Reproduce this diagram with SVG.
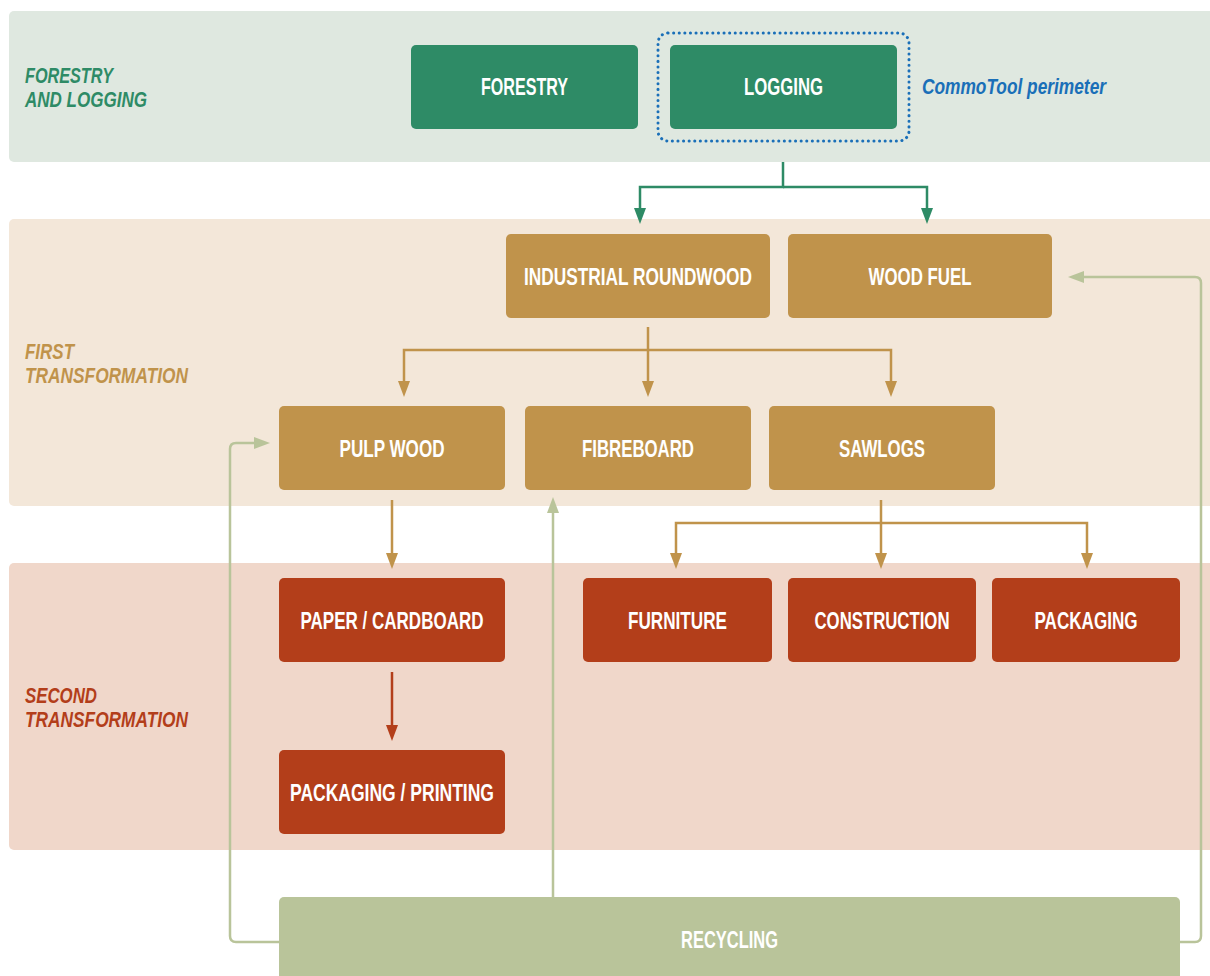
<svg xmlns="http://www.w3.org/2000/svg" width="1210" height="976" viewBox="0 0 1210 976">
<style>
.band-label{font-family:"Liberation Sans","Arial",sans-serif;font-size:22px;font-weight:bold;font-style:italic}
.nt{font-family:"Liberation Sans","Arial",sans-serif;font-size:23px;font-weight:bold;fill:#ffffff;text-anchor:middle;dominant-baseline:central}
.green{fill:#2e8b66}.gold{fill:#c0934b}.red{fill:#b33e1a}.rec{fill:#b9c49a}
.c-green{stroke:#2e8b66;stroke-width:2.5;fill:none}
.c-gold{stroke:#c0934b;stroke-width:2.5;fill:none}
.c-red{stroke:#b33e1a;stroke-width:2.5;fill:none}
.c-rec{stroke:#b9c49a;stroke-width:2.5;fill:none}
</style>
<rect width="1210" height="976" fill="#ffffff"/>
<!-- bands -->
<g id="band-forestry"><rect x="9" y="11" width="1210" height="151" rx="5" fill="#dfe8e0"/>
<text class="band-label" fill="#2e8b66" x="25" y="83" textLength="88" lengthAdjust="spacingAndGlyphs">FORESTRY</text><text class="band-label" fill="#2e8b66" x="25" y="107" textLength="122" lengthAdjust="spacingAndGlyphs">AND LOGGING</text></g>
<g id="band-first"><rect x="9" y="219" width="1210" height="287" rx="5" fill="#f3e7d9"/>
<text class="band-label" fill="#c0934b" x="25" y="359" textLength="49" lengthAdjust="spacingAndGlyphs">FIRST</text><text class="band-label" fill="#c0934b" x="25" y="383" textLength="163" lengthAdjust="spacingAndGlyphs">TRANSFORMATION</text></g>
<g id="band-second"><rect x="9" y="563" width="1210" height="287" rx="5" fill="#f0d7ca"/>
<text class="band-label" fill="#b33e1a" x="25" y="703" textLength="72" lengthAdjust="spacingAndGlyphs">SECOND</text><text class="band-label" fill="#b33e1a" x="25" y="727" textLength="163" lengthAdjust="spacingAndGlyphs">TRANSFORMATION</text></g>

<!-- connectors -->
<g id="connectors">
<path class="c-green" d="M783,162 V187 H640 V208" />
<path class="c-green" d="M783,187 H927 V208" />
<polygon points="634,208 646,208 640,224" fill="#2e8b66"/>
<polygon points="921,208 933,208 927,224" fill="#2e8b66"/>

<path class="c-gold" d="M648,327 V382" />
<path class="c-gold" d="M404,382 V350 H891 V382" />
<polygon points="398,381 410,381 404,397" fill="#c0934b"/>
<polygon points="642,381 654,381 648,397" fill="#c0934b"/>
<polygon points="885,381 897,381 891,397" fill="#c0934b"/>

<path class="c-gold" d="M392,500 V554" />
<polygon points="386,553 398,553 392,569" fill="#c0934b"/>

<path class="c-gold" d="M881,500 V554" />
<path class="c-gold" d="M676,554 V523 H1087 V554" />
<polygon points="670,553 682,553 676,569" fill="#c0934b"/>
<polygon points="875,553 887,553 881,569" fill="#c0934b"/>
<polygon points="1081,553 1093,553 1087,569" fill="#c0934b"/>

<path class="c-red" d="M392,672 V726" />
<polygon points="386,725 398,725 392,741" fill="#b33e1a"/>

<path class="c-rec" d="M279,942 H236 Q230,942 230,936 V449 Q230,443 236,443 H256" />
<polygon points="254,437 254,449 270,443" fill="#b9c49a"/>
<path class="c-rec" d="M553,897 V512" />
<polygon points="547,513 559,513 553,497" fill="#b9c49a"/>
<path class="c-rec" d="M1180,942 H1195 Q1201,942 1201,936 V283 Q1201,277 1195,277 H1082" />
<polygon points="1084,271 1084,283 1068,277" fill="#b9c49a"/>
</g>

<!-- nodes -->
<g id="node-forestry"><rect class="green" x="411" y="45" width="227" height="84" rx="5"/><text class="nt" x="524.5" y="87" textLength="87" lengthAdjust="spacingAndGlyphs">FORESTRY</text></g>
<g id="node-logging"><rect x="658" y="33" width="251" height="108" rx="10" fill="none" stroke="#1a6fb8" stroke-width="3" stroke-dasharray="0.1 5.5" stroke-linecap="round"/>
<rect class="green" x="670" y="45" width="227" height="84" rx="5"/><text class="nt" x="783.5" y="87" textLength="79" lengthAdjust="spacingAndGlyphs">LOGGING</text></g>
<g id="label-perimeter"><text x="922" y="94" font-family="Liberation Sans,Arial,sans-serif" font-size="22" font-weight="bold" font-style="italic" fill="#1a6fb8" textLength="184" lengthAdjust="spacingAndGlyphs">CommoTool perimeter</text></g>

<g id="node-industrial"><rect class="gold" x="506" y="234" width="264" height="84" rx="5"/><text class="nt" x="638" y="277" textLength="228" lengthAdjust="spacingAndGlyphs">INDUSTRIAL ROUNDWOOD</text></g>
<g id="node-woodfuel"><rect class="gold" x="788" y="234" width="264" height="84" rx="5"/><text class="nt" x="920" y="277" textLength="103" lengthAdjust="spacingAndGlyphs">WOOD FUEL</text></g>
<g id="node-pulpwood"><rect class="gold" x="279" y="406" width="226" height="84" rx="5"/><text class="nt" x="392" y="449" textLength="105" lengthAdjust="spacingAndGlyphs">PULP WOOD</text></g>
<g id="node-fibreboard"><rect class="gold" x="525" y="406" width="226" height="84" rx="5"/><text class="nt" x="638" y="449" textLength="112" lengthAdjust="spacingAndGlyphs">FIBREBOARD</text></g>
<g id="node-sawlogs"><rect class="gold" x="769" y="406" width="226" height="84" rx="5"/><text class="nt" x="882" y="449" textLength="86" lengthAdjust="spacingAndGlyphs">SAWLOGS</text></g>

<g id="node-paper"><rect class="red" x="279" y="578" width="226" height="84" rx="5"/><text class="nt" x="392" y="621" textLength="183" lengthAdjust="spacingAndGlyphs">PAPER / CARDBOARD</text></g>
<g id="node-furniture"><rect class="red" x="583" y="578" width="189" height="84" rx="5"/><text class="nt" x="677.5" y="621" textLength="99" lengthAdjust="spacingAndGlyphs">FURNITURE</text></g>
<g id="node-construction"><rect class="red" x="788" y="578" width="188" height="84" rx="5"/><text class="nt" x="882" y="621" textLength="135" lengthAdjust="spacingAndGlyphs">CONSTRUCTION</text></g>
<g id="node-packaging"><rect class="red" x="992" y="578" width="188" height="84" rx="5"/><text class="nt" x="1086" y="621" textLength="103" lengthAdjust="spacingAndGlyphs">PACKAGING</text></g>
<g id="node-printing"><rect class="red" x="279" y="750" width="226" height="84" rx="5"/><text class="nt" x="392" y="793" textLength="204" lengthAdjust="spacingAndGlyphs">PACKAGING / PRINTING</text></g>

<g id="node-recycling"><rect class="rec" x="279" y="897" width="901" height="100" rx="5"/><text class="nt" x="729.5" y="940" textLength="97" lengthAdjust="spacingAndGlyphs">RECYCLING</text></g>
</svg>
